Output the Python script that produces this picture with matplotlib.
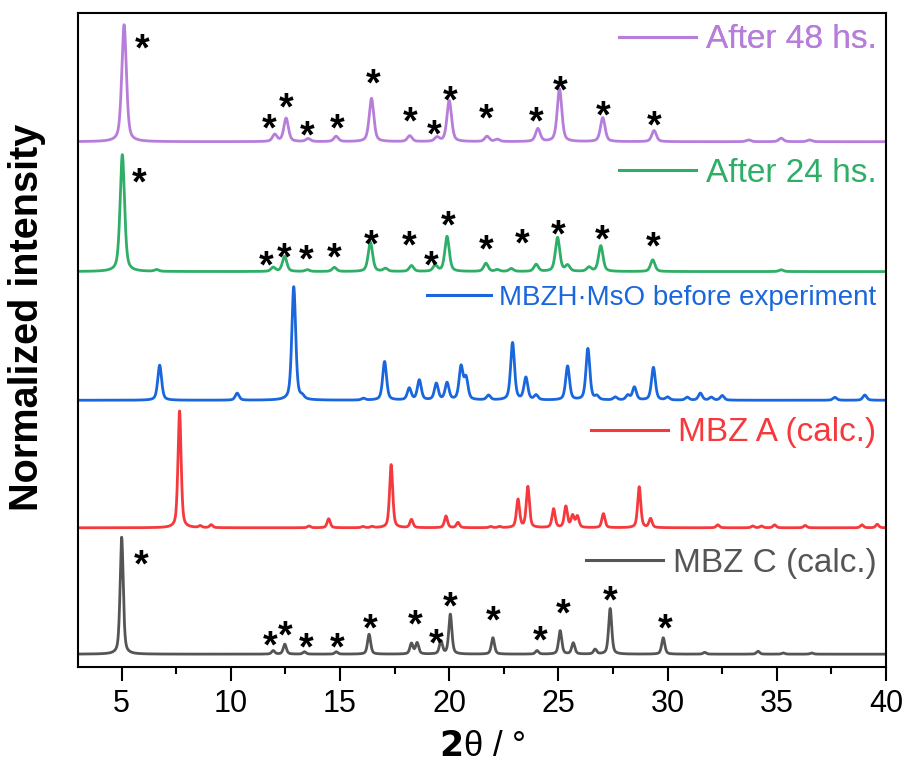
import numpy as np
import matplotlib.pyplot as plt
from matplotlib.ticker import MultipleLocator
from matplotlib.lines import Line2D

plt.rcParams["font.family"] = ["Liberation Sans", "DejaVu Sans"]

# peak lists: 2theta (deg) and normalized height
mbzc_pos = [5.0, 11.94, 12.47, 13.37, 14.83, 16.33, 18.27, 18.53, 19.62, 20.05,
            22.0, 24.02, 25.08, 25.68, 26.68, 27.37, 29.8, 31.7, 34.14, 35.3, 36.6]
mbzc_int = [1.0, 0.03, 0.085, 0.02, 0.02, 0.17, 0.09, 0.095, 0.11, 0.34,
            0.14, 0.03, 0.2, 0.095, 0.04, 0.39, 0.14, 0.015, 0.025, 0.01, 0.01]

mbza_pos = [7.65, 8.6, 9.1, 13.58, 14.48, 16.05, 16.47, 17.34, 18.27, 19.85,
            20.4, 21.9, 22.3, 23.15, 23.6, 24.78, 25.34, 25.65, 25.87, 27.06,
            28.7, 29.22, 32.3, 33.9, 34.3, 34.9, 36.3, 38.9, 39.6]
mbza_int = [1.0, 0.015, 0.025, 0.015, 0.077, 0.01, 0.01, 0.54, 0.07, 0.10,
            0.045, 0.01, 0.01, 0.24, 0.35, 0.16, 0.18, 0.10, 0.095, 0.12,
            0.35, 0.077, 0.025, 0.015, 0.015, 0.025, 0.02, 0.025, 0.03]

mbzh_pos = [6.74, 10.29, 12.88, 13.27, 16.07, 17.04, 18.17, 18.63, 19.41, 19.9,
            20.54, 20.77, 21.8, 22.9, 23.51, 23.98, 25.42, 26.35, 26.76, 27.6,
            28.18, 28.48, 29.35, 30.0, 30.9, 31.5, 32.0, 32.5, 37.66, 39.03]
mbzh_int = [0.30, 0.06, 0.97, 0.025, 0.015, 0.33, 0.10, 0.17, 0.14, 0.145,
            0.28, 0.18, 0.04, 0.49, 0.19, 0.04, 0.29, 0.44, 0.03, 0.025,
            0.04, 0.11, 0.28, 0.025, 0.025, 0.06, 0.025, 0.04, 0.025, 0.045]

h24_pos = [5.03, 6.6, 11.94, 12.46, 13.5, 14.74, 16.39, 17.08, 18.27, 19.36,
           19.9, 21.68, 22.2, 22.84, 23.98, 24.96, 25.42, 26.4, 26.94, 29.32, 35.2]
h24_int = [1.0, 0.015, 0.035, 0.13, 0.015, 0.035, 0.25, 0.025, 0.05, 0.05,
           0.30, 0.07, 0.015, 0.025, 0.06, 0.29, 0.05, 0.035, 0.22, 0.10, 0.015]

h48_pos = [5.11, 12.01, 12.53, 13.54, 14.82, 16.44, 18.19, 19.44, 20.0, 21.73,
           22.2, 24.06, 25.05, 27.03, 29.38, 33.7, 35.2, 36.5]
h48_int = [1.0, 0.06, 0.20, 0.025, 0.045, 0.37, 0.05, 0.035, 0.35, 0.045,
           0.02, 0.11, 0.45, 0.205, 0.095, 0.015, 0.03, 0.015]

# asterisks (2theta, height above the trace baseline)
c_star_x = [5.87, 11.82, 12.50, 13.45, 14.87, 16.39, 18.45, 19.41, 20.03, 22.02,
            24.17, 25.21, 27.37, 29.89]
c_star_y = [0.86, 0.16, 0.25, 0.15, 0.15, 0.31, 0.34, 0.18, 0.50, 0.38,
            0.21, 0.44, 0.55, 0.31]
h24_star_x = [5.79, 11.62, 12.42, 13.45, 14.71, 16.44, 18.17, 19.17, 19.97, 21.68,
              23.33, 25.0, 26.99, 29.35]
h24_star_y = [0.85, 0.14, 0.21, 0.19, 0.21, 0.32, 0.31, 0.14, 0.48, 0.28,
              0.33, 0.41, 0.36, 0.30]
h48_star_x = [5.95, 11.74, 12.55, 13.50, 14.87, 16.51, 18.19, 19.32, 20.02, 21.70,
              23.98, 25.08, 27.04, 29.38]
h48_star_y = [0.89, 0.20, 0.38, 0.14, 0.20, 0.59, 0.26, 0.15, 0.44, 0.29,
              0.26, 0.53, 0.31, 0.23]

labels = ["MBZ C (calc.)", "MBZ A (calc.)", "MBZH\u00b7MsO before experiment",
          "After 24 hs.", "After 48 hs."]
colors = ["#555555", "#f5393d", "#1a66dd", "#2fae68", "#b77ddb"]
offsets = [0.11, 1.19, 2.28, 3.38, 4.49]
fwhm = [0.17, 0.17, 0.21, 0.24, 0.25]
label_y = [0.159, 0.358, 0.564, 0.755, 0.959]
label_size = [24, 24, 20, 24, 24]


def pattern(x, pos, amp, w):
    """pseudo-Voigt sum of the listed peaks"""
    y = np.zeros_like(x)
    for p, a in zip(pos, amp):
        d = (x - p) / (w / 2)
        y += a * (0.5 / (1 + d**2) + 0.5 * np.exp(-np.log(2) * d**2))
    return y


x = np.linspace(3, 40, 4000)
peaks = [(mbzc_pos, mbzc_int), (mbza_pos, mbza_int), (mbzh_pos, mbzh_int),
         (h24_pos, h24_int), (h48_pos, h48_int)]

fig = plt.figure(figsize=(9.06, 7.74), dpi=100)
ax = fig.add_axes([0.0861, 0.1382, 0.8918, 0.845])

for i, (pos, amp) in enumerate(peaks):
    y = pattern(x, pos, amp, fwhm[i])
    ax.plot(x, y + offsets[i], color=colors[i], linewidth=2.0)
    leg = ax.legend(handles=[Line2D([], [], color=colors[i], linewidth=2.2)],
                    labels=[labels[i]], loc="center right",
                    bbox_to_anchor=(0.988, label_y[i]), frameon=False,
                    fontsize=label_size[i], labelcolor=colors[i],
                    handlelength=2.3, handletextpad=0.3, borderpad=0,
                    borderaxespad=0)
    ax.add_artist(leg)

star_fs = 27
for sx, sy, k in [(c_star_x, c_star_y, 0), (h24_star_x, h24_star_y, 3),
                  (h48_star_x, h48_star_y, 4)]:
    for a, b in zip(sx, sy):
        ax.annotate("*", (a, b + offsets[k]), xytext=(0, -0.6 * star_fs),
                    textcoords="offset points", ha="center", va="baseline",
                    fontsize=star_fs, fontweight="bold", color="black")

ax.set_xlim(3, 40)
ax.set_ylim(0, 5.59)
ax.set_yticks([])
ax.xaxis.set_major_locator(MultipleLocator(5))
ax.xaxis.set_minor_locator(MultipleLocator(2.5))
ax.tick_params(axis="x", which="major", direction="out", length=10, width=1.5,
               labelsize=22, pad=6)
ax.tick_params(axis="x", which="minor", direction="out", length=5, width=1.5)
for s in ax.spines.values():
    s.set_linewidth(1.5)

ax.set_xlabel(r"$\mathbf{2}$θ / °", fontsize=25, labelpad=8)
ax.set_ylabel("Normalized intensity", fontsize=28.5, fontweight="bold")
ax.yaxis.set_label_coords(-0.04, 0.534)

fig.savefig("out.png", dpi=100)
